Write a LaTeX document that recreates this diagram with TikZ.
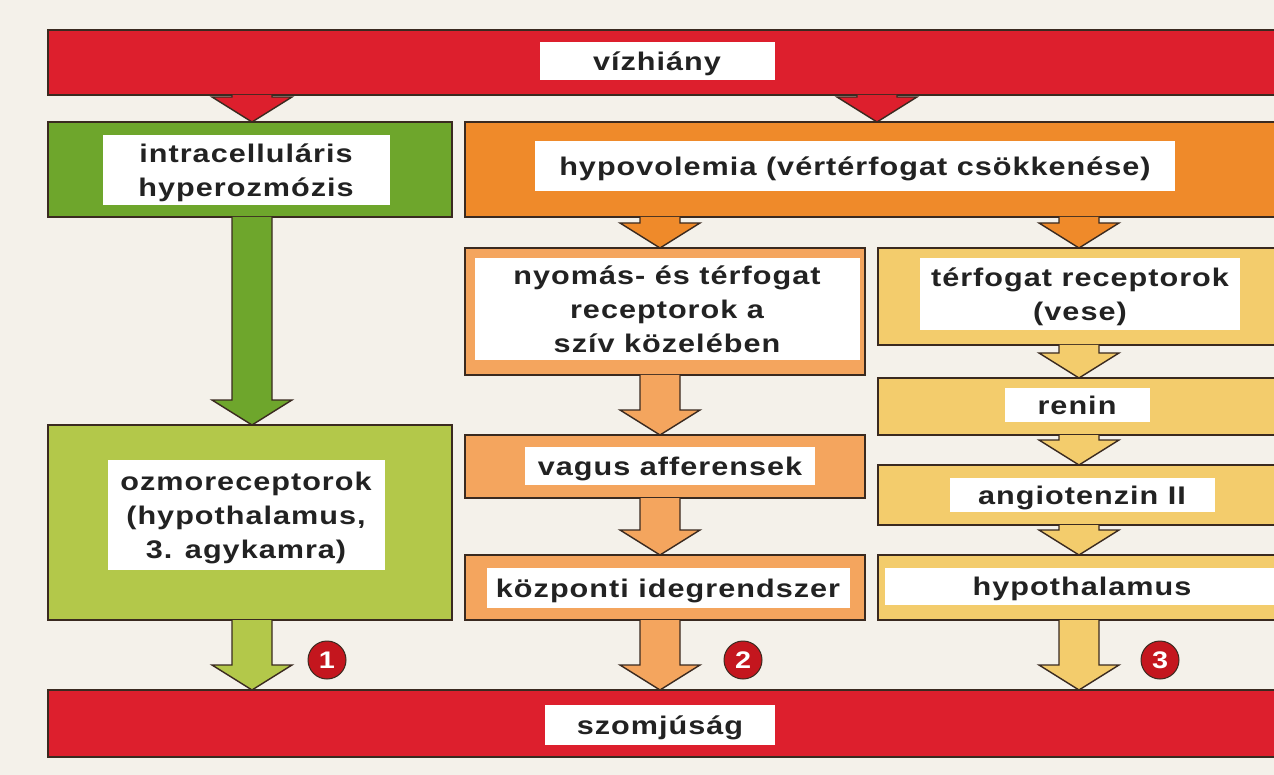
\documentclass[tikz,border=0pt]{standalone}
\usepackage{fontspec}
\setmainfont{Liberation Sans}[FakeStretch=1.2,LetterSpace=4]
\usetikzlibrary{calc}
\definecolor{bg}{HTML}{F4F1EA}
\definecolor{cred}{HTML}{DD1F2D}
\definecolor{cgreen}{HTML}{6EA62C}
\definecolor{clgreen}{HTML}{B3C84A}
\definecolor{corange}{HTML}{EF8A2A}
\definecolor{clorange}{HTML}{F4A55E}
\definecolor{cyellow}{HTML}{F3CC6C}
\definecolor{outl}{HTML}{3A2A20}
\definecolor{cdot}{HTML}{C4161E}
\definecolor{ctext}{HTML}{222222}
\tikzset{
  box/.style={rectangle, fill=#1, draw=outl, line width=1.6pt, outer sep=0pt, inner sep=0pt},
  lbl/.style={rectangle, fill=white, inner sep=0pt, align=center, text=ctext, text depth=0pt,
     font=\fontsize{25.5}{34}\selectfont\bfseries},
  arr/.style={draw=outl, line width=1.4pt, line join=miter},
  num/.style={circle, fill=cdot, draw=outl, line width=1pt, minimum size=38pt, inner sep=0pt,
     text=white, font=\fontsize{24}{24}\selectfont\bfseries}
}
\newcommand\barrow[4]{%
  \draw[arr,fill=#4] ($(#1|-#2.south)+(-20,0)$) -- ($(#1|-#3.north)+(-20,-25)$)
    -- ($(#1|-#3.north)+(-40,-25)$) -- (#1|-#3.north) -- ($(#1|-#3.north)+(40,-25)$)
    -- ($(#1|-#3.north)+(20,-25)$) -- ($(#1|-#2.south)+(20,0)$);}
\begin{document}
\begin{tikzpicture}[x=1pt,y=-1pt]
\clip (0,0) rectangle (1274,775);
\fill[bg] (0,0) rectangle (1274,775);
% columns
\coordinate (cL) at (252,0);
\coordinate (cT) at (877,0);
\coordinate (cM) at (660,0);
\coordinate (cR) at (1079,0);
% boxes
\node[box=cred, minimum width=1242pt, minimum height=65pt] (top) at (669,62.5) {};
\node[box=cgreen, minimum width=404pt, minimum height=95pt] (g1) at (250,169.5) {};
\node[box=corange, minimum width=825pt, minimum height=95pt] (hv) at (877.5,169.5) {};
\node[box=clorange, minimum width=400pt, minimum height=127pt] (ny) at (665,311.5) {};
\node[box=clorange, minimum width=400pt, minimum height=63pt] (va) at (665,466.5) {};
\node[box=clorange, minimum width=400pt, minimum height=65pt] (ko) at (665,587.5) {};
\node[box=cyellow, minimum width=412pt, minimum height=97pt] (tr) at (1084,296.5) {};
\node[box=cyellow, minimum width=412pt, minimum height=57pt] (re) at (1084,406.5) {};
\node[box=cyellow, minimum width=412pt, minimum height=60pt] (an) at (1084,495) {};
\node[box=cyellow, minimum width=412pt, minimum height=65pt] (hy) at (1084,587.5) {};
\node[box=clgreen, minimum width=404pt, minimum height=195pt] (oz) at (250,522.5) {};
\node[box=cred, minimum width=1242pt, minimum height=67pt] (bot) at (669,723.5) {};
% labels
\node[lbl, minimum width=235pt, minimum height=38pt] (l-top) at (657,61) {vízhiány};
\node[lbl, minimum width=287pt, minimum height=70pt] (l-g1) at (246,170) {intracelluláris\\hyperozmózis};
\node[lbl, minimum width=640pt, minimum height=50pt] (l-hv) at (855,166) {hypovolemia (vértérfogat csökkenése)};
\node[lbl, minimum width=385pt, minimum height=102pt] (l-ny) at (667,309) {nyomás- és térfogat\\receptorok a\\szív közelében};
\node[lbl, minimum width=290pt, minimum height=38pt] (l-va) at (670,466) {vagus afferensek};
\node[lbl, minimum width=363pt, minimum height=40pt] (l-ko) at (668,588) {központi idegrendszer};
\node[lbl, minimum width=320pt, minimum height=72pt] (l-tr) at (1080,294) {térfogat receptorok\\(vese)};
\node[lbl, minimum width=145pt, minimum height=34pt] (l-re) at (1077,405) {renin};
\node[lbl, minimum width=265pt, minimum height=34pt] (l-an) at (1082,495) {angiotenzin II};
\node[lbl, minimum width=395pt, minimum height=37pt] (l-hy) at (1082,586) {hypothalamus};
\node[lbl, minimum width=277pt, minimum height=110pt] (l-oz) at (246,515) {ozmoreceptorok\\(hypothalamus,\\3. agykamra)};
\node[lbl, minimum width=230pt, minimum height=40pt] (l-bot) at (660,725) {szomjúság};
% arrows
\barrow{cL}{top}{g1}{cred}
\barrow{cT}{top}{hv}{cred}
\barrow{cL}{g1}{oz}{cgreen}
\barrow{cL}{oz}{bot}{clgreen}
\barrow{cM}{hv}{ny}{corange}
\barrow{cR}{hv}{tr}{corange}
\barrow{cM}{ny}{va}{clorange}
\barrow{cM}{va}{ko}{clorange}
\barrow{cM}{ko}{bot}{clorange}
\barrow{cR}{tr}{re}{cyellow}
\barrow{cR}{re}{an}{cyellow}
\barrow{cR}{an}{hy}{cyellow}
\barrow{cR}{hy}{bot}{cyellow}
% numbers
\node[num] (n1) at (327,660) {1};
\node[num] (n2) at (743,660) {2};
\node[num] (n3) at (1160,660) {3};
\end{tikzpicture}
\end{document}
